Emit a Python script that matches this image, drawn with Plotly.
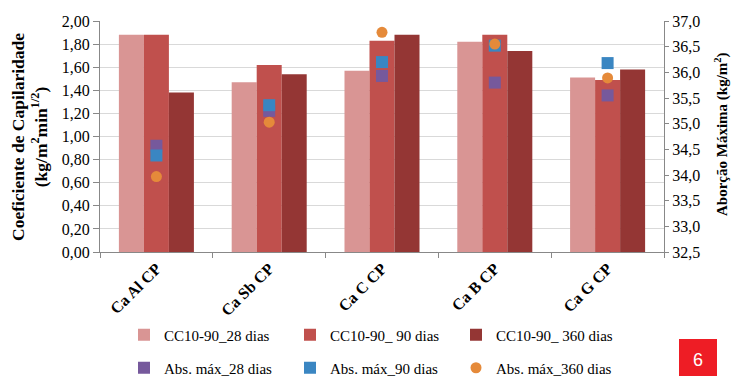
import plotly.graph_objects as go

categories = ["Ca Al CP", "Ca Sb CP", "Ca C CP", "Ca B CP", "Ca G CP"]
cc_28 = [1.88, 1.47, 1.57, 1.82, 1.51]
cc_90 = [1.88, 1.62, 1.83, 1.88, 1.49]
cc_360 = [1.38, 1.54, 1.88, 1.74, 1.58]
abs_28 = [34.57, 35.25, 35.93, 35.80, 35.55]
abs_90 = [34.38, 35.36, 36.20, 36.52, 36.18]
abs_360 = [33.97, 35.03, 36.78, 36.55, 35.89]

left_ticks = [0, 0.2, 0.4, 0.6, 0.8, 1.0, 1.2, 1.4, 1.6, 1.8, 2.0]
right_ticks = [32.5, 33.0, 33.5, 34.0, 34.5, 35.0, 35.5, 36.0, 36.5, 37.0]

FONT = "Liberation Serif"

# plot area in pixels
PL, PR, PT, PB = 100, 664, 21, 252
PW, PH = PR - PL, PB - PT


def px_x(x):
    return (x - PL) / PW


def px_y(y):
    return (PB - y) / PH


fig = go.Figure()
bar_specs = [("CC10-90_28 dias", cc_28, "#D99594"),
             ("CC10-90_ 90 dias", cc_90, "#C0504D"),
             ("CC10-90_ 360 dias", cc_360, "#943634")]
for name, vals, col in bar_specs:
    fig.add_trace(go.Bar(x=categories, y=vals, name=name, marker_color=col,
                         marker_line_width=0, legend="legend"))

mk_specs = [("Abs. máx_28 dias", abs_28, "#76599C", "square", 12),
            ("Abs. máx_90 dias", abs_90, "#3A86C2", "square", 12),
            ("Abs. máx_360 dias", abs_360, "#E58A3A", "circle", 11)]
for name, vals, col, sym, sz in mk_specs:
    fig.add_trace(go.Scatter(x=categories, y=vals, name=name, mode="markers",
                             marker=dict(color=col, symbol=sym, size=sz, line_width=0),
                             yaxis="y2", legend="legend2"))

leg_common = dict(orientation="h", xanchor="left", yanchor="middle",
                  font=dict(family=FONT, size=15, color="#000"),
                  entrywidth=121, entrywidthmode="pixels", bgcolor="rgba(0,0,0,0)",
                  itemwidth=30)

fig.update_layout(
    width=733, height=376,
    margin=dict(l=PL, r=733 - PR, t=PT, b=376 - PB, autoexpand=False),
    plot_bgcolor="white", paper_bgcolor="white",
    separators=",.",
    barmode="group", bargap=0.335, bargroupgap=0,
    font=dict(family=FONT, size=15, color="#000"),
    xaxis=dict(showline=True, linecolor="#888", linewidth=1, automargin=False,
               ticks="outside", ticklen=5, tickcolor="#888", tickson="boundaries",
               tickangle=-45, tickfont=dict(family=FONT, size=16, color="#000", weight="bold"),
               showgrid=False),
    yaxis=dict(range=[0, 2], tickvals=left_ticks, tickformat=".2f", automargin=False,
               showline=True, linecolor="#888", ticks="outside", ticklen=6, tickcolor="#888",
               gridcolor="#D9D9D9", gridwidth=1, zeroline=False,
               tickfont=dict(family=FONT, size=16, color="#000")),
    yaxis2=dict(range=[32.5, 37], tickvals=right_ticks, tickformat=".1f", automargin=False,
                overlaying="y", side="right",
                showline=True, linecolor="#888", ticks="outside", ticklen=4, tickcolor="#888",
                showgrid=False, zeroline=False,
                tickfont=dict(family=FONT, size=16, color="#000")),
    legend=dict(x=px_x(124), y=px_y(335), **leg_common),
    legend2=dict(x=px_x(124), y=px_y(368), **leg_common),
    showlegend=True,
)

# axis titles
fig.add_annotation(x=px_x(29), y=px_y(137), xref="paper", yref="paper", textangle=-90,
                   xanchor="center", yanchor="middle",
                   text="<b>Coeficiente de Capilaridade<br>(kg/m<sup>2</sup>min<sup>1/2</sup>)</b>",
                   showarrow=False, font=dict(family=FONT, size=17.5, color="#000"))
fig.add_annotation(x=px_x(721), y=px_y(134), xref="paper", yref="paper", textangle=-90,
                   xanchor="center", yanchor="middle",
                   text="<b>Aborção Máxima (kg/m<sup>2</sup>)</b>",
                   showarrow=False, font=dict(family=FONT, size=15, color="#000"))

fig.add_shape(type="rect", xref="paper", yref="paper",
              x0=px_x(679), x1=px_x(717), y0=px_y(339), y1=px_y(376),
              fillcolor="#EE1D25", line_width=0, layer="above")
fig.add_annotation(x=px_x(698), y=px_y(360), xref="paper", yref="paper",
                   xanchor="center", yanchor="middle",
                   text="6", showarrow=False,
                   font=dict(family="Liberation Sans", size=18, color="white"))

fig.write_html("out.html", config={"displayModeBar": False},
               post_script="document.body.style.margin='0';")
